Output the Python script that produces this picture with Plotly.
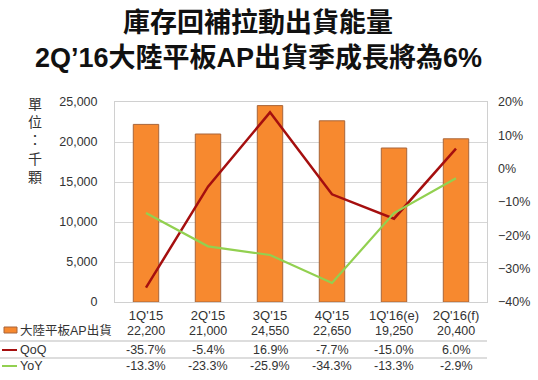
import plotly.graph_objects as go

categories = ["1Q'15", "2Q'15", "3Q'15", "4Q'15", "1Q'16(e)", "2Q'16(f)"]
shipments = [22200, 21000, 24550, 22650, 19250, 20400]
qoq = [-35.7, -5.4, 16.9, -7.7, -15.0, 6.0]
yoy = [-13.3, -23.3, -25.9, -34.3, -13.3, -2.9]
series_names = ["大陸平板AP出貨", "QoQ", "YoY"]
title_lines = ["庫存回補拉動出貨能量", "2Q’16大陸平板AP出貨季成長將為6%"]
unit_label = "單位：千顆"

W, H = 538, 380
def px(p):
    return p / W
def py(p):
    return 1 - p / H

BAR = "#F7892F"
BAR_LINE = "#A8653A"
RED = "#A50F0F"
GREEN = "#92D050"
TXT = "#333333"
FONT = "Liberation Sans, Arial, Noto Sans CJK TC, sans-serif"

fig = go.Figure()
fig.add_trace(go.Bar(x=categories, y=shipments, name=series_names[0],
                     marker=dict(color=BAR, line=dict(color=BAR_LINE, width=1)),
                     width=0.41, yaxis="y"))
fig.add_trace(go.Scatter(x=categories, y=qoq, name=series_names[1], mode="lines",
                         line=dict(color=RED, width=2.5), yaxis="y2"))
fig.add_trace(go.Scatter(x=categories, y=yoy, name=series_names[2], mode="lines",
                         line=dict(color=GREEN, width=2.2), yaxis="y2"))

x0, x1 = px(115), px(487)
ytop, ybot = py(102), py(302)

fig.update_layout(
    width=W, height=H, margin=dict(l=0, r=0, t=0, b=0, autoexpand=False),
    paper_bgcolor="white", plot_bgcolor="white",
    showlegend=False,
    font=dict(family=FONT, color=TXT, size=12),
    xaxis=dict(domain=[x0, x1], type="category", range=[-0.5, 5.5], automargin=False,
               showgrid=False, showline=True, linecolor="#D0D0D0", mirror=True,
               ticks="", tickfont=dict(size=13, color=TXT), ticklabelstandoff=1),
    yaxis=dict(domain=[ybot, ytop], range=[0, 25000], dtick=5000, tickformat=",",
               automargin=False,
               showgrid=True, gridcolor="#D6D6D6", gridwidth=1, zeroline=False,
               showline=True, linecolor="#D0D0D0", mirror=True,
               tickfont=dict(size=12.5, color=TXT), ticklabelstandoff=14),
    yaxis2=dict(overlaying="y", side="right", range=[-40, 20], dtick=10,
                automargin=False,
                ticksuffix="%", showgrid=False, zeroline=False,
                tickfont=dict(size=12.5, color=TXT), ticklabelstandoff=10),
)

ann = []
ann.append(dict(x=px(258), y=py(23), xref="paper", yref="paper", text="<b>" + title_lines[0] + "</b>",
                showarrow=False, font=dict(size=27, color="#111111", family=FONT),
                xanchor="center", yanchor="middle"))
ann.append(dict(x=px(258), y=py(58), xref="paper", yref="paper", text="<b>" + title_lines[1] + "</b>",
                showarrow=False, font=dict(size=27, color="#111111", family=FONT),
                xanchor="center", yanchor="middle"))
ann.append(dict(x=px(35), y=py(94), xref="paper", yref="paper",
                text="<br>".join(list(unit_label)), showarrow=False,
                font=dict(size=14, color=TXT, family=FONT), xanchor="center", yanchor="top",
                align="center"))

row_y = [331, 350, 366]
for c, v in zip(categories, shipments):
    ann.append(dict(x=c, y=py(row_y[0]), xref="x", yref="paper", text=f"{v:,}",
                    showarrow=False, font=dict(size=12.5, color=TXT), xanchor="center", yanchor="middle"))
for c, v in zip(categories, qoq):
    ann.append(dict(x=c, y=py(row_y[1]), xref="x", yref="paper", text=f"{v:.1f}%",
                    showarrow=False, font=dict(size=12.5, color=TXT), xanchor="center", yanchor="middle"))
for c, v in zip(categories, yoy):
    ann.append(dict(x=c, y=py(row_y[2]), xref="x", yref="paper", text=f"{v:.1f}%",
                    showarrow=False, font=dict(size=12.5, color=TXT), xanchor="center", yanchor="middle"))
for name, yy in zip(series_names, row_y):
    ann.append(dict(x=px(18), y=py(yy), xref="paper", yref="paper", text=name,
                    showarrow=False, font=dict(size=12.5, color=TXT, family=FONT),
                    xanchor="left", yanchor="middle"))

shapes = []
for yy in [341, 358]:
    shapes.append(dict(type="line", xref="paper", yref="paper", x0=0, x1=px(487),
                       y0=py(yy), y1=py(yy), line=dict(color="#BBBBBB", width=1)))
shapes.append(dict(type="rect", xref="paper", yref="paper", x0=px(4), x1=px(17),
                   y0=py(333), y1=py(327), fillcolor=BAR, line=dict(color=BAR_LINE, width=1)))
shapes.append(dict(type="line", xref="paper", yref="paper", x0=px(2), x1=px(17),
                   y0=py(350), y1=py(350), line=dict(color=RED, width=2)))
shapes.append(dict(type="line", xref="paper", yref="paper", x0=px(2), x1=px(17),
                   y0=py(366), y1=py(366), line=dict(color=GREEN, width=2)))

fig.update_layout(annotations=ann, shapes=shapes)
fig.write_html("out.html", config={"displayModeBar": False},
               post_script="document.body.style.margin='0';document.body.style.overflow='hidden';")
